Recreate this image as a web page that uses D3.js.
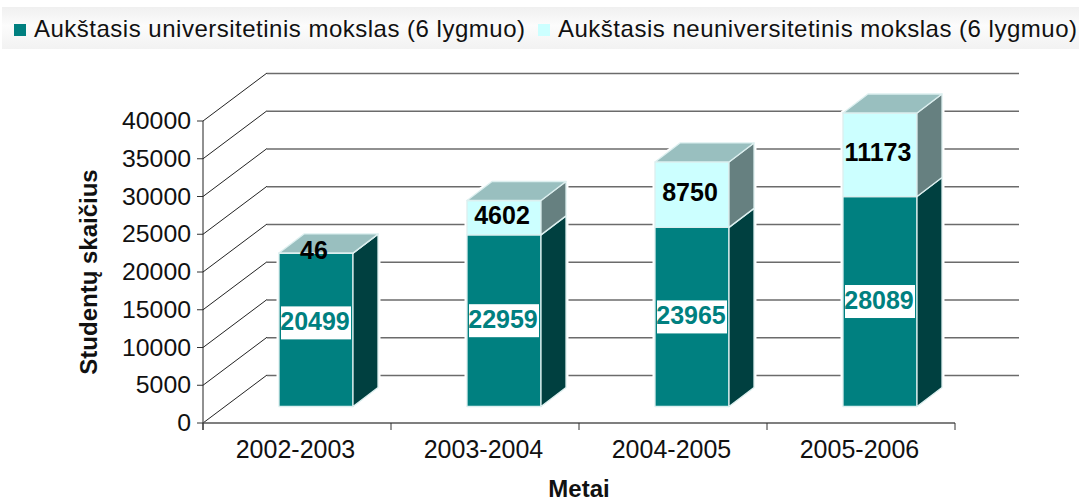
<!DOCTYPE html>
<html><head><meta charset="utf-8">
<script src="https://cdn.jsdelivr.net/npm/d3@7"></script>
<style>html,body{margin:0;padding:0;background:#fff}svg{display:block}text{font-family:"Liberation Sans",Arial,sans-serif}</style>
</head><body><svg id="c" width="1079" height="502"></svg>
<script>
const categories=["2002-2003","2003-2004","2004-2005","2005-2006"];
const university=[20499,22959,23965,28089];
const nonUniversity=[46,4602,8750,11173];
const seriesNames=["Aukštasis universitetinis mokslas (6 lygmuo)","Aukštasis neuniversitetinis mokslas (6 lygmuo)"];
const yTicks=[0,5000,10000,15000,20000,25000,30000,35000,40000];
const yTitle="Studentų skaičius",xTitle="Metai";

const svg=d3.select("#c");
const defs=svg.append("defs");
const g=defs.append("linearGradient").attr("id","lg").attr("x1",0).attr("x2",0).attr("y1",0).attr("y2",1);
g.append("stop").attr("offset",0).attr("stop-color","#f0f0f0");
g.append("stop").attr("offset",.45).attr("stop-color","#fcfcfc");
g.append("stop").attr("offset",1).attr("stop-color","#f2f2f2");

// legend
svg.append("rect").attr("x",2).attr("y",7).attr("width",1077).attr("height",42).attr("fill","url(#lg)");
const legendItems=[{x:14,tx:34,c:"#008080"},{x:538,tx:558,c:"#ccffff"}];
legendItems.forEach((d,i)=>{
  svg.append("rect").attr("x",d.x).attr("y",24).attr("width",12).attr("height",12).attr("fill",d.c);
  svg.append("text").attr("x",d.tx).attr("y",37).attr("font-size",24).attr("fill","#111").attr("textLength",i?519:491).text(seriesNames[i]);
});

const x=d3.scaleBand().domain(categories).range([203,955]);
const y=d3.scaleLinear().domain([0,40000]).range([423,121]);
const yBar=d3.scaleLinear().domain([0,40000]).range([406.5,107.5]);
const DX=64,DY=-48,SX=25,SY=-19,BW=74;

// walls and grid
yTicks.forEach(t=>{
  const p=y(t);
  svg.append("line").attr("x1",203+DX).attr("x2",1019).attr("y1",p+DY+.5).attr("y2",p+DY+.5).attr("stroke","#6b6b6b").attr("stroke-width",1.6);
  svg.append("line").attr("x1",203).attr("x2",203+DX).attr("y1",p).attr("y2",p+DY).attr("stroke","#222").attr("stroke-width",1);
  svg.append("line").attr("x1",197).attr("x2",203).attr("y1",p).attr("y2",p).attr("stroke","#333").attr("stroke-width",1);
  svg.append("text").attr("x",191).attr("y",p+8).attr("text-anchor","end").attr("font-size",24.8).attr("fill","#111").text(t);
});
svg.append("line").attr("x1",203).attr("x2",203).attr("y1",121).attr("y2",430).attr("stroke","#222").attr("stroke-width",1);
svg.append("line").attr("x1",203).attr("x2",955).attr("y1",423).attr("y2",423).attr("stroke","#555").attr("stroke-width",1.5);
[...categories.map(c=>x(c)),955].forEach(p=>svg.append("line").attr("x1",p).attr("x2",p).attr("y1",423).attr("y2",430).attr("stroke","#333"));
categories.forEach(c=>svg.append("text").attr("x",x(c)+x.bandwidth()/2-1.5).attr("y",458).attr("text-anchor","middle").attr("font-size",25).attr("fill","#111").text(c));

function poly(pts,fill,stroke,w){svg.append("polygon").attr("points",pts.map(p=>p.join(",")).join(" ")).attr("fill",fill).attr("stroke",stroke||"#dcefef").attr("stroke-width",w||1.3).attr("stroke-linejoin","round");}
function block(l,yb,yt,front,side,top){
  const r=l+BW;
  poly([[l,yb],[r,yb],[r,yt],[l,yt]],front);
  poly([[r,yb],[r+SX,yb+SY],[r+SX,yt+SY],[r,yt]],side);
  if(top) poly([[l,yt],[r,yt],[r+SX,yt+SY],[l+SX,yt+SY]],top);
}
categories.forEach((c,i)=>{
  const l=x(c)+76, a=university[i], b=nonUniversity[i];
  const y1=yBar(a), y2=yBar(a+b), r=l+BW, y0=yBar(0);
  poly([[l,y0],[r,y0],[r+SX,y0+SY],[r+SX,y2+SY],[l+SX,y2+SY],[l,y2]],"#fff","#fff",5);
  block(l,y0,y1,"#008080","#004040",null);
  block(l,y1,y2,"#ccffff","#668080","#99bfbf");
  const cx=l+BW/2, my=(y0+y1)/2-(i==0?7:0);
  svg.append("rect").attr("x",cx-35).attr("y",my-16.5).attr("width",70).attr("height",33).attr("fill","#fff");
  svg.append("text").attr("x",cx-1).attr("y",my+7.5).attr("text-anchor","middle").attr("font-size",25).attr("font-weight","bold").attr("fill","#008080").text(a);
  svg.append("text").attr("x",i==0?cx-2:cx-2).attr("y",i==0?y2+6:(y1+y2)/2+6.5).attr("text-anchor","middle").attr("font-size",25).attr("font-weight","bold").attr("fill","#000").text(b);
});

svg.append("text").attr("transform","translate(97,272) rotate(-90)").attr("text-anchor","middle").attr("font-size",24).attr("font-weight","bold").attr("fill","#111").text(yTitle);
svg.append("text").attr("x",579).attr("y",497).attr("text-anchor","middle").attr("font-size",24).attr("font-weight","bold").attr("fill","#111").text(xTitle);
</script></body></html>
